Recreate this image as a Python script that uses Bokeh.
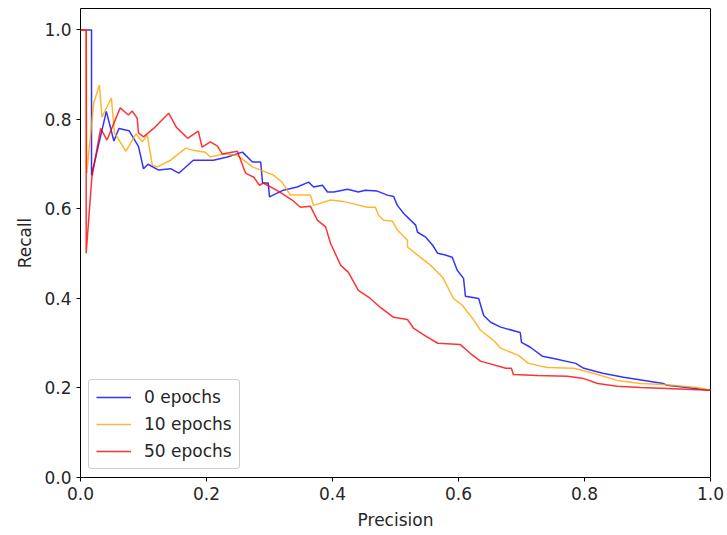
from bokeh.plotting import figure
from bokeh.models import Range1d, Legend, LegendItem, FixedTicker
from bokeh.embed import file_html
from bokeh.resources import INLINE

blue_x = [0.0, 0.0175, 0.0175, 0.041, 0.053, 0.061, 0.077, 0.092, 0.100, 0.107, 0.124, 0.143, 0.156,
          0.179, 0.211, 0.233, 0.257, 0.273, 0.286, 0.289, 0.298, 0.300, 0.322, 0.344, 0.362, 0.370,
          0.384, 0.392, 0.402, 0.424, 0.441, 0.452, 0.471, 0.487, 0.497, 0.503, 0.513, 0.532, 0.535,
          0.548, 0.559, 0.567, 0.579, 0.590, 0.598, 0.608, 0.611, 0.632, 0.640, 0.651, 0.667, 0.698,
          0.700, 0.714, 0.733, 0.751, 0.786, 0.799, 0.829, 0.862, 0.925, 0.931, 1.0]
blue_y = [1.0, 1.0, 0.675, 0.818, 0.752, 0.78, 0.775, 0.74, 0.69, 0.70, 0.687, 0.69, 0.68,
          0.709, 0.709, 0.716, 0.727, 0.705, 0.705, 0.658, 0.658, 0.627, 0.642, 0.649, 0.66, 0.649,
          0.653, 0.638, 0.638, 0.644, 0.638, 0.642, 0.64, 0.631, 0.628, 0.608, 0.59, 0.564, 0.548,
          0.537, 0.519, 0.501, 0.497, 0.492, 0.463, 0.445, 0.405, 0.40, 0.362, 0.347, 0.336, 0.324,
          0.302, 0.291, 0.271, 0.266, 0.255, 0.244, 0.233, 0.224, 0.21, 0.206, 0.195]

orange_x = [0.0, 0.009, 0.010, 0.021, 0.030, 0.034, 0.049, 0.054, 0.072, 0.088, 0.098, 0.106, 0.114,
            0.122, 0.143, 0.167, 0.179, 0.198, 0.206, 0.227, 0.249, 0.273, 0.306, 0.320, 0.333, 0.365,
            0.370, 0.397, 0.417, 0.455, 0.468, 0.473, 0.481, 0.495, 0.503, 0.519, 0.519, 0.535, 0.556,
            0.575, 0.592, 0.606, 0.622, 0.635, 0.656, 0.667, 0.695, 0.711, 0.741, 0.783, 0.814, 0.852,
            0.889, 0.925, 0.979, 1.0]
orange_y = [1.0, 1.0, 0.68, 0.837, 0.877, 0.805, 0.848, 0.77, 0.729, 0.768, 0.75, 0.765, 0.698,
            0.694, 0.709, 0.736, 0.731, 0.727, 0.716, 0.723, 0.72, 0.694, 0.676, 0.66, 0.631, 0.631,
            0.608, 0.62, 0.617, 0.604, 0.604, 0.586, 0.575, 0.573, 0.553, 0.53, 0.515, 0.497, 0.474,
            0.447, 0.40, 0.385, 0.356, 0.329, 0.306, 0.289, 0.273, 0.255, 0.246, 0.244, 0.233, 0.217,
            0.21, 0.208, 0.201, 0.195]

red_x = [0.0, 0.009, 0.009, 0.018, 0.032, 0.042, 0.063, 0.076, 0.082, 0.090, 0.092, 0.100, 0.116,
         0.140, 0.152, 0.170, 0.187, 0.193, 0.206, 0.217, 0.225, 0.249, 0.262, 0.275, 0.284, 0.290,
         0.314, 0.336, 0.349, 0.365, 0.376, 0.389, 0.397, 0.413, 0.425, 0.441, 0.460, 0.476, 0.497,
         0.519, 0.529, 0.548, 0.567, 0.603, 0.619, 0.635, 0.675, 0.684, 0.687, 0.725, 0.773, 0.799,
         0.821, 0.852, 0.889, 0.931, 1.0]
red_y = [1.0, 1.0, 0.501, 0.67, 0.78, 0.754, 0.826, 0.81, 0.819, 0.803, 0.77, 0.761, 0.78,
         0.814, 0.783, 0.758, 0.774, 0.738, 0.75, 0.741, 0.723, 0.729, 0.68, 0.671, 0.653, 0.658,
         0.64, 0.62, 0.604, 0.606, 0.575, 0.56, 0.523, 0.474, 0.459, 0.418, 0.40, 0.38, 0.358,
         0.353, 0.333, 0.316, 0.30, 0.297, 0.277, 0.26, 0.244, 0.244, 0.23, 0.228, 0.226, 0.221,
         0.21, 0.204, 0.201, 0.199, 0.195]

series_labels = ["0 epochs", "10 epochs", "50 epochs"]
series_colors = ["blue", "orange", "red"]
ticks = [0.0, 0.2, 0.4, 0.6, 0.8, 1.0]

FONT = "DejaVu Sans"
FS = "17px"

p = figure(width=727, height=535, output_backend="svg", toolbar_location=None,
           x_range=Range1d(0, 1.0), y_range=Range1d(0, 1.048),
           min_border_left=80, min_border_right=17, min_border_top=8, min_border_bottom=58)
p.outline_line_color = "black"
p.outline_line_width = 1
p.outline_line_alpha = 1
p.grid.visible = False
p.background_fill_color = "white"
p.border_fill_color = "white"

renderers = []
for xs, ys, c in [(blue_x, blue_y, series_colors[0]), (orange_x, orange_y, series_colors[1]),
                  (red_x, red_y, series_colors[2])]:
    r = p.line(xs, ys, line_color=c, line_width=1.5, line_alpha=0.8)
    renderers.append(r)

for ax in (p.xaxis[0], p.yaxis[0]):
    ax.ticker = FixedTicker(ticks=ticks)
    ax.major_tick_out = 4
    ax.major_tick_in = 0
    ax.minor_tick_out = 0
    ax.minor_tick_in = 0
    ax.major_label_text_font = FONT
    ax.major_label_text_font_size = FS
    ax.major_label_text_color = "#262626"
    ax.axis_label_text_font = FONT
    ax.axis_label_text_font_size = FS
    ax.axis_label_text_font_style = "normal"
    ax.axis_label_text_color = "#262626"
    ax.axis_line_color = None
    ax.major_tick_line_color = "black"

p.xaxis[0].axis_label = "Precision"
p.yaxis[0].axis_label = "Recall"
p.xaxis[0].major_label_overrides = {t: f"{t:.1f}" for t in ticks}
p.yaxis[0].major_label_overrides = {t: f"{t:.1f}" for t in ticks}
p.xaxis[0].major_label_standoff = 5
p.yaxis[0].major_label_standoff = 5
p.xaxis[0].axis_label_standoff = 7
p.yaxis[0].axis_label_standoff = 6

legend = Legend(items=[LegendItem(label=l, renderers=[r]) for l, r in zip(series_labels, renderers)],
                location="bottom_left")
legend.label_text_font = FONT
legend.label_text_font_size = FS
legend.label_text_color = "#262626"
legend.border_line_color = "#cccccc"
legend.border_line_alpha = 1
legend.border_radius = 3
legend.background_fill_alpha = 0.8
legend.glyph_width = 35
legend.glyph_height = 20
legend.label_height = 20
legend.spacing = 7
legend.padding = 7
legend.margin = 8
legend.label_standoff = 13
p.add_layout(legend)

open("out.html", "w").write(file_html(p, INLINE))
